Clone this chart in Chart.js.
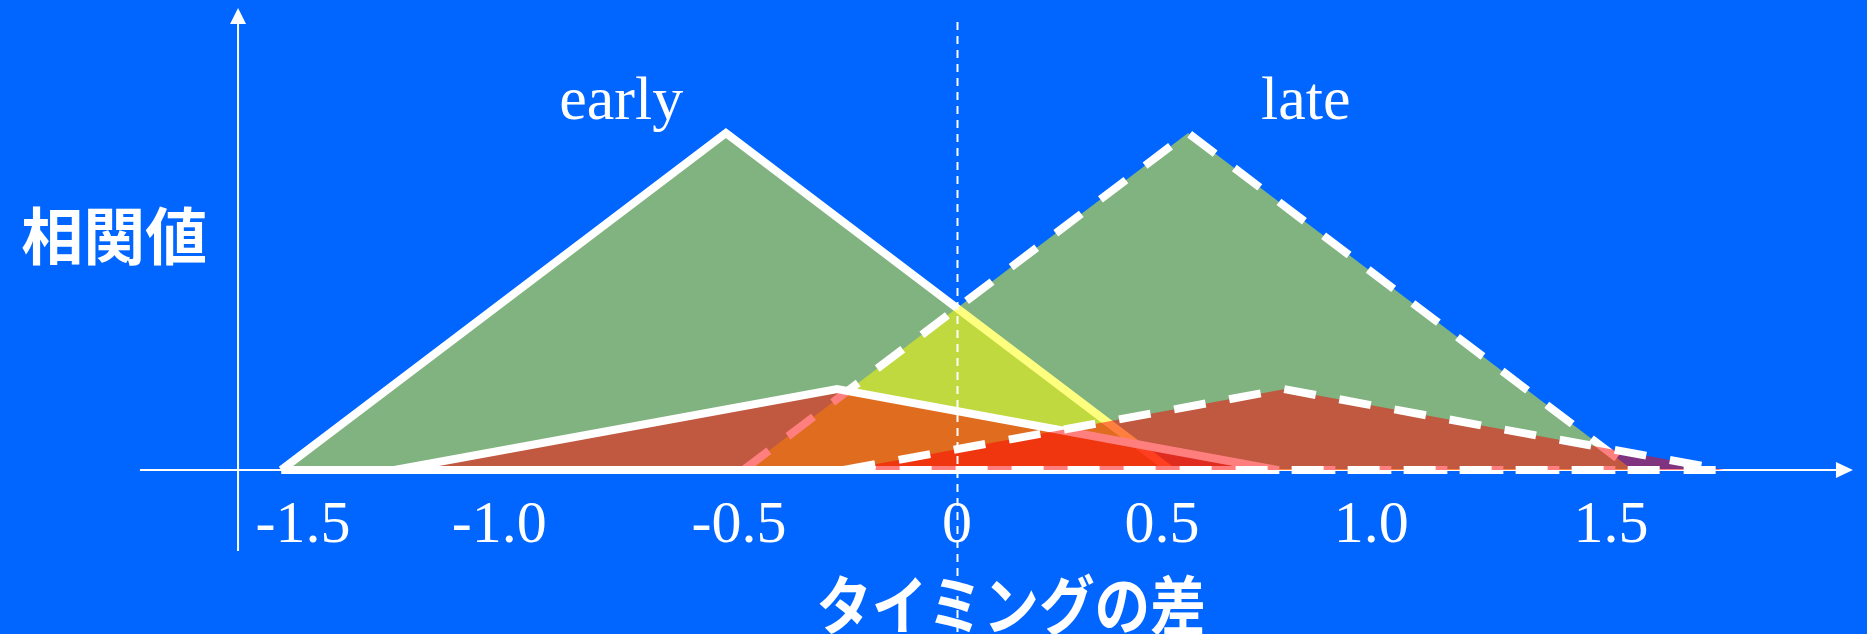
<!DOCTYPE html>
<html>
<head>
<meta charset="utf-8">
<script src="https://cdn.jsdelivr.net/npm/chart.js@4/dist/chart.umd.min.js"></script>
<style>
  html, body { margin: 0; padding: 0; background: #0066ff; }
  #wrap { width: 1867px; height: 634px; }
</style>
</head>
<body>
<div id="wrap"><canvas id="tri" width="1867" height="634"></canvas></div>
<script>
// triangle corners on the time axis: left foot, peak, right foot
const earlyBigX = [-1.55, -0.53, 0.49];
const lateBigX = [-0.49, 0.53, 1.55];
const earlySmallX = [-1.29, -0.275, 0.735];
const lateSmallX = [-0.26, 0.75, 1.76];
// correlation heights at those corners
const bigY = [0, 1.0, 0];
const smallY = [0, 0.24, 0];
// x tick labels and where they sit
const tickLabels = ['-1.5', '-1.0', '-0.5', '0', '0.5', '1.0', '1.5'];
const tickLabelAt = [-1.5, -1.05, -0.5, 0, 0.47, 0.95, 1.5];
// peak names
const peakLabels = ['early', 'late'];
const peakLabelAt = [-0.77, 0.80];
const yTitle = '相関値';
const xTitle = 'タイミングの差';

const WHITE = '#ffffff';
const YELLOW = 'rgba(255,255,0,0.5)';
const RED = 'rgba(255,0,0,0.5)';
const DASH = [32, 24];

function pts(xs, ys) {
  return xs.map((x, i) => ({x: x, y: ys[i]}));
}
function base(xs) {
  return [{x: xs[0], y: 0}, {x: xs[2], y: 0}];
}

// draw order: early big, late big, early small, late small (each fill, outline, base)
function tri(xs, ys, fillCol, dash, ord) {
  return [
    {data: pts(xs, ys), backgroundColor: fillCol, fill: 'origin', borderDash: dash, order: ord},
    {data: base(xs), fill: false, borderDash: dash, order: ord - 1}
  ];
}

const datasets = [].concat(
  tri(earlyBigX, bigY, YELLOW, [], 8),
  tri(lateBigX, bigY, YELLOW, DASH, 6),
  tri(earlySmallX, smallY, RED, [], 4),
  tri(lateSmallX, smallY, RED, DASH, 2)
);

const decor = {
  id: 'decor',
  beforeDatasetsDraw(chart) {
    const ctx = chart.ctx;
    const xs = chart.scales.x, ys = chart.scales.y;
    const ax = xs.getPixelForValue(-1.649);
    const ay = ys.getPixelForValue(0);
    const x0 = xs.getPixelForValue(-1.874), x1 = xs.getPixelForValue(2.055);
    const yTop = ys.getPixelForValue(1.371), yBot = ys.getPixelForValue(-0.24);
    ctx.save();
    ctx.strokeStyle = WHITE;
    ctx.fillStyle = WHITE;
    ctx.lineWidth = 2;
    ctx.beginPath();
    ctx.moveTo(x0, ay); ctx.lineTo(x1 - 14, ay);
    ctx.moveTo(ax, yBot); ctx.lineTo(ax, yTop + 14);
    ctx.stroke();
    // arrow heads
    ctx.beginPath();
    ctx.moveTo(x1, ay); ctx.lineTo(x1 - 17, ay - 8); ctx.lineTo(x1 - 17, ay + 8); ctx.closePath();
    ctx.moveTo(ax, yTop); ctx.lineTo(ax - 8, yTop + 16); ctx.lineTo(ax + 8, yTop + 16); ctx.closePath();
    ctx.fill();
    ctx.restore();
  },
  afterDatasetsDraw(chart) {
    const ctx = chart.ctx;
    const xs = chart.scales.x, ys = chart.scales.y;
    ctx.save();
    // dashed zero line
    const zx = Math.round(xs.getPixelForValue(0)) + 0.5;
    ctx.strokeStyle = WHITE;
    ctx.lineWidth = 2;
    ctx.setLineDash([8, 6]);
    ctx.beginPath();
    ctx.moveTo(zx, 22); ctx.lineTo(zx, chart.height);
    ctx.stroke();
    ctx.setLineDash([]);

    ctx.fillStyle = WHITE;
    ctx.textAlign = 'center';
    ctx.textBaseline = 'alphabetic';
    ctx.font = '60px "Liberation Serif", "Times New Roman", serif';
    tickLabels.forEach((t, i) => {
      ctx.fillText(t, xs.getPixelForValue(tickLabelAt[i]), ys.getPixelForValue(-0.214));
    });
    ctx.font = '62px "Liberation Serif", "Times New Roman", serif';
    peakLabels.forEach((t, i) => {
      ctx.fillText(t, xs.getPixelForValue(peakLabelAt[i]), ys.getPixelForValue(1.0415));
    });

    ctx.textBaseline = 'middle';
    ctx.font = 'bold 62px "Noto Sans CJK JP", sans-serif';
    ctx.fillText(yTitle, xs.getPixelForValue(-1.933), ys.getPixelForValue(0.694));

    ctx.font = 'bold 64px "Noto Sans CJK JP", sans-serif';
    const tx = xs.getPixelForValue(0.124), ty = ys.getPixelForValue(-0.40);
    ctx.translate(tx, ty);
    ctx.scale(0.87, 1);
    ctx.fillText(xTitle, 0, 0);
    ctx.restore();
  }
};

new Chart(document.getElementById('tri'), {
  type: 'line',
  data: {datasets: datasets},
  options: {
    responsive: false,
    animation: false,
    devicePixelRatio: 1,
    layout: {padding: 0},
    elements: {
      line: {borderColor: WHITE, borderWidth: 8, tension: 0, borderJoinStyle: 'miter'},
      point: {radius: 0, hoverRadius: 0}
    },
    scales: {
      x: {type: 'linear', min: -2.195, max: 2.0872, display: false},
      y: {type: 'linear', min: -0.4866, max: 1.3947, display: false}
    },
    plugins: {legend: {display: false}, tooltip: {enabled: false}}
  },
  plugins: [decor]
});
</script>
</body>
</html>
